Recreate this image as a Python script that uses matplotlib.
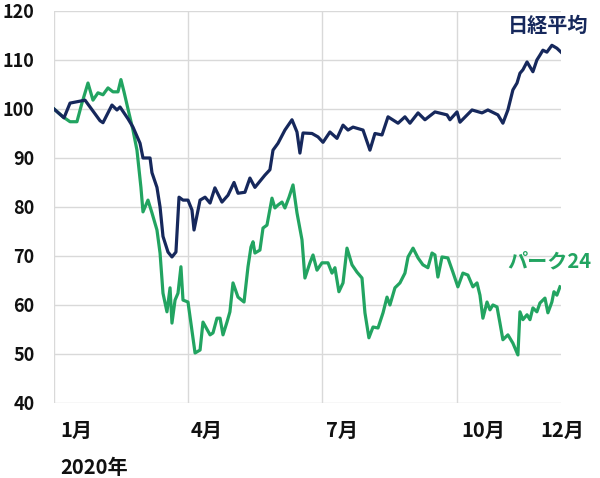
import matplotlib
matplotlib.use("Agg")
import matplotlib.pyplot as plt

plt.rcParams['font.family'] = ['Noto Sans CJK JP', 'DejaVu Sans']

# Day offsets from 2020-01-01 and index values (start = 100)
nikkei_days = [0, 6.8, 10.9, 21.1, 31.3, 33.3, 39.4, 42.8, 44.9, 50.3, 53.7, 58.5, 60.5, 65.3,
               66.6, 70.0, 72.1, 74.1, 77.5, 80.2, 82.9, 85.0, 87.7, 91.1, 93.8, 95.2, 99.3,
               102.7, 106.1, 109.4, 114.2, 118.3, 122.4, 125.1, 129.8, 133.2, 136.6, 143.4,
               146.8, 148.9, 152.3, 157.0, 161.8, 165.2, 167.2, 169.3, 175.4, 179.5, 182.9,
               187.6, 192.4, 196.5, 199.9, 203.3, 210.1, 214.8, 218.2, 223.0, 227.1, 233.9,
               238.6, 242.0, 247.5, 252.2, 259.0, 267.2, 269.2, 274.0, 276.0, 284.2, 291.0,
               295.0, 301.8, 305.2, 308.6, 312.0, 314.8, 316.8, 318.8, 321.6, 323.6, 325.6,
               328.3, 330.4, 332.4, 335.1, 338.5, 341.9, 344.7]
nikkei_vals = [100, 98.2, 101.2, 101.8, 97.6, 97.2, 100.8, 99.8, 100.4, 98, 96.3, 93, 90, 90,
               87, 84, 80, 74, 70.8, 69.8, 70.8, 82, 81.4, 81.4, 79.4, 75.3, 81.4,
               82, 80.8, 83.9, 81, 82.4, 85, 82.8, 83, 85.9, 84, 86.5,
               87.6, 91.6, 93, 95.7, 97.8, 95.3, 91, 95.1, 95, 94.3, 93.2,
               95.3, 94, 96.7, 95.7, 96.3, 95.7, 91.6, 95, 94.7, 98.4, 97.1,
               98.4, 97.1, 99.2, 97.8, 99.4, 98.8, 97.8, 99.4, 97.3, 99.8, 99.2,
               99.8, 98.8, 97.1, 99.8, 103.9, 105.3, 107.3, 108, 109.6, 108.6, 107.6,
               110, 111, 112, 111.6, 113, 112.4, 111.6]

park_days = [0, 6.1, 10.9, 15.6, 19.0, 23.1, 26.5, 29.9, 33.3, 36.7, 40.1, 43.5, 45.5, 47.6,
             50.3, 53.7, 56.4, 59.1, 60.5, 63.9, 66.6, 70.0, 72.1, 74.1, 76.8, 78.9, 80.2,
             82.3, 84.3, 86.3, 87.7, 91.1, 95.9, 99.3, 101.3, 106.1, 108.1, 110.8, 112.9,
             114.9, 117.6, 119.6, 121.7, 125.1, 129.2, 131.9, 133.9, 135.3, 136.6, 140.0,
             142.1, 144.8, 148.2, 150.2, 152.3, 155.0, 157.0, 159.8, 162.5, 165.2, 168.6,
             170.6, 174.0, 176.1, 178.8, 182.2, 186.3, 189.0, 191.0, 193.7, 196.5, 199.2,
             202.6, 206.0, 209.4, 211.4, 214.1, 216.9, 220.3, 223.7, 226.4, 228.4, 231.8,
             235.2, 238.6, 240.7, 244.1, 247.5, 250.8, 254.2, 257.0, 259.0, 261.0, 263.8,
             267.8, 271.2, 274.6, 278.0, 281.4, 284.8, 287.6, 289.6, 291.6, 294.4, 296.4,
             298.4, 301.2, 303.2, 305.2, 308.6, 312.0, 315.4, 316.8, 318.8, 321.6, 323.6,
             325.6, 328.3, 330.4, 333.8, 335.8, 338.5, 339.9, 341.9, 344.0]
park_vals = [100, 98.4, 97.4, 97.4, 101.2, 105.3, 101.8, 103.3, 102.9, 104.3, 103.5, 103.5, 106, 103.5,
             100, 95.7, 91.6, 84, 79, 81.4, 78.8, 75.3, 70.6, 62.4, 58.6, 63.5, 56.3,
             61, 62.4, 67.8, 61, 60.6, 50.2, 50.8, 56.5, 53.9, 54.3, 57.3, 57.3,
             53.9, 56.5, 58.6, 64.5, 61.6, 60.6, 67.8, 71.8, 72.9, 70.6, 71.2,
             75.7, 76.3, 81.8, 79.8, 80.4, 81, 79.8, 82, 84.5, 78.8, 73.3,
             65.5, 68.6, 70.2, 67.1, 68.6, 68.6, 66.5, 67.6, 62.7, 64.5, 71.6,
             68.2, 66.7, 65.5, 58.4, 53.3, 55.5, 55.3, 58.4, 61.6, 60, 63.5,
             64.5, 66.5, 69.8, 71.6, 69.6, 68.2, 67.6, 70.6, 70.2, 65.7, 69.8,
             69.6, 66.7, 63.7, 66.5, 66.1, 63.7, 64.5, 62, 57.3, 60.6, 59,
             60, 59.6, 56.3, 52.9, 53.9, 52.2, 49.8, 58.6, 57, 58, 57,
             59.4, 58.6, 60.4, 61.4, 58.4, 60.6, 62.7, 62, 63.7]

month_days = [0, 91, 182, 274]          # Jan 1, Apr 1, Jul 1, Oct 1
month_labels = ['1月', '4月', '7月', '10月', '12月']
month_label_days = [4, 93, 185, 277, 331]
y_ticks = [40, 50, 60, 70, 80, 90, 100, 110, 120]

navy = '#16285c'
green = '#22a461'

fig = plt.figure(figsize=(6, 4.78), dpi=100)
ax = fig.add_axes([0.09, 0.157, 0.845, 0.82])
ax.set_xlim(0, 344.7)
ax.set_ylim(40, 120)

for d in month_days:
    ax.axvline(d, color='#d9d9d9', lw=1.0, zorder=0)
for v in y_ticks:
    ax.axhline(v, color='#d9d9d9', lw=1.0, zorder=0)

ax.plot(park_days, park_vals, color=green, lw=2.3, solid_joinstyle='round', zorder=3)
ax.plot(nikkei_days, nikkei_vals, color=navy, lw=2.3, solid_joinstyle='round', zorder=4)

for s in ax.spines.values():
    s.set_visible(False)
ax.set_yticks(y_ticks)
ax.set_yticklabels([str(v) for v in y_ticks], fontsize=13, fontweight='bold', color='#111111')
ax.tick_params(axis='y', length=0, pad=14)
ax.set_xticks([])

for d, lab in zip(month_label_days, month_labels):
    ax.text(d, 34.3, lab, fontsize=14.5, fontweight='bold', color='#111111',
            ha='left', va='center', clip_on=False)
ax.text(4, 26.8, '2020年', fontsize=14.5, fontweight='bold', color='#111111',
        ha='left', va='center', clip_on=False)

ax.text(0.895, 0.99, '日経平均', transform=ax.transAxes, fontsize=14.5, color=navy,
        fontweight='semibold', ha='left', va='top', clip_on=False)
ax.text(0.895, 0.39, 'パーク24', transform=ax.transAxes, fontsize=14.5, color=green,
        fontweight='semibold', ha='left', va='top', clip_on=False)

fig.savefig('out.png', dpi=100, facecolor='white')
